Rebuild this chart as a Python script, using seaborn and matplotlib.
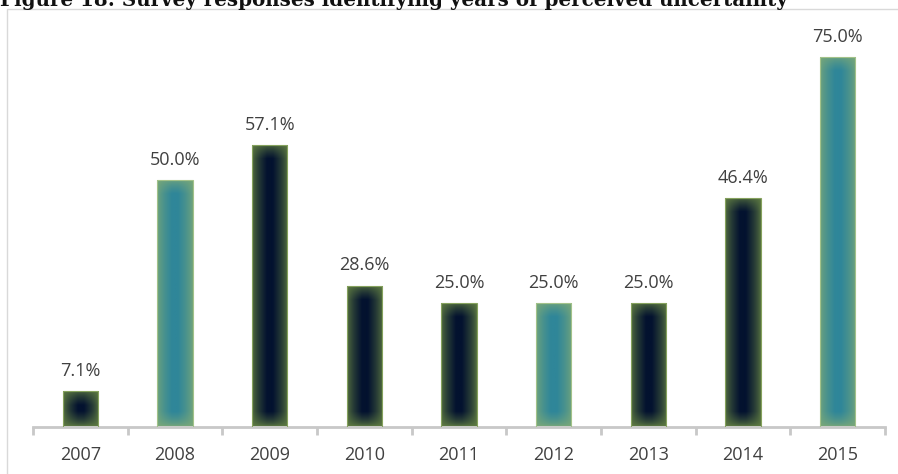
import numpy as np
import pandas as pd
import matplotlib
matplotlib.use("Agg")
import matplotlib.pyplot as plt
from matplotlib.patches import Rectangle
from matplotlib.colors import to_rgb
import seaborn as sns

years = ["2007", "2008", "2009", "2010", "2011", "2012", "2013", "2014", "2015"]
shares = [7.1, 50.0, 57.1, 28.6, 25.0, 25.0, 25.0, 46.4, 75.0]
shade = ["dark", "teal", "dark", "dark", "dark", "teal", "dark", "dark", "teal"]

title = "Figure 18: Survey responses identifying years of perceived uncertainty"

# centre / rim / outline colours for the shaded bar fills
fills = {
    "dark": ("#03122f", "#607d42", "#86a25e"),
    "teal": ("#2f8699", "#7aa878", "#a3c28a"),
}

sns.set_theme(style="white")
plt.rcParams["font.family"] = ["Open Sans", "DejaVu Sans"]

W, H = 898, 474
fig = plt.figure(figsize=(W / 100, H / 100), dpi=100)
ax = fig.add_axes([33 / W, (H - 426.5) / H, 852 / W, 394.4 / H])

df = pd.DataFrame({"year": years, "share": shares, "shade": shade})
sns.barplot(data=df, x="year", y="share", hue="shade", order=years,
            palette={k: v[0] for k, v in fills.items()}, width=0.37,
            dodge=False, legend=False, ax=ax, saturation=1)

ymax = 80
ax.set_xlim(-0.5, len(years) - 0.5)
ax.set_ylim(0, ymax)

# gradient fill: bright rim fading smoothly into the bar's core colour
px_per_unit_y = 394.4 / ymax
px_per_unit_x = 852 / len(years)
bars = sorted([p for p in ax.patches if p.get_height() > 0], key=lambda p: p.get_x())
for patch, kind in zip(bars, shade):
    x0, y0 = patch.get_x(), patch.get_y()
    w, h = patch.get_width(), patch.get_height()
    wp = max(int(round(w * px_per_unit_x)), 2)
    hp = max(int(round(h * px_per_unit_y)), 2)
    xs = np.arange(wp) + 0.5
    ys = np.arange(hp) + 0.5
    X, Y = np.meshgrid(xs, ys)
    dx = np.minimum(X, wp - X)
    dy = np.minimum(Y, hp - Y)
    reach = wp * 0.42
    tx = np.clip(dx / reach, 0, 1) ** 0.6
    ty = np.clip(dy / reach, 0, 1) ** 0.6
    t = tx * ty
    c_core = np.array(to_rgb(fills[kind][0]))
    c_rim = np.array(to_rgb(fills[kind][1]))
    img = c_rim[None, None, :] * (1 - t[..., None]) + c_core[None, None, :] * t[..., None]
    im = ax.imshow(img, extent=[x0, x0 + w, y0, y0 + h], origin="lower",
                   aspect="auto", interpolation="bilinear", zorder=2)
    im.set_clip_path(patch)
    patch.set_facecolor("none")
    patch.set_edgecolor(fills[kind][2])
    patch.set_linewidth(0.8)
    patch.set_zorder(3)

ax.set_xlim(-0.5, len(years) - 0.5)
ax.set_ylim(0, ymax)

for i, v in enumerate(shares):
    ax.annotate(f"{v:.1f}%", (i, v), xytext=(0, 8), textcoords="offset points",
                ha="center", va="bottom", fontsize=13, color="#404040")

for s in ["top", "right", "left"]:
    ax.spines[s].set_visible(False)
ax.spines["bottom"].set_color("#c8c8c8")
ax.spines["bottom"].set_linewidth(2)
ax.set_yticks([])
ax.set_xticks(range(len(years)))
ax.set_xticklabels(years)
ax.set_xticks(np.arange(-0.5, len(years)), minor=True)
ax.tick_params(axis="x", which="major", length=0, pad=14, labelsize=13,
               labelcolor="#404040")
ax.tick_params(axis="x", which="minor", length=5.5, width=2, color="#c8c8c8",
               direction="out", bottom=True)
ax.set_xlabel("")
ax.set_ylabel("")
ax.set_facecolor("white")

# light frame around the chart area
fig.add_artist(Rectangle((6.5 / W, -0.1), 1.2, 1.1 - 9.5 / H,
                         transform=fig.transFigure, fill=False,
                         ec="#d9d9d9", lw=1))
fig.text(0.0, 1 - 6 / H, title, fontfamily="DejaVu Serif", fontweight="bold",
         fontsize=14.3, va="baseline", ha="left", color="#111111")

fig.savefig("out.png", dpi=100, facecolor="white")
